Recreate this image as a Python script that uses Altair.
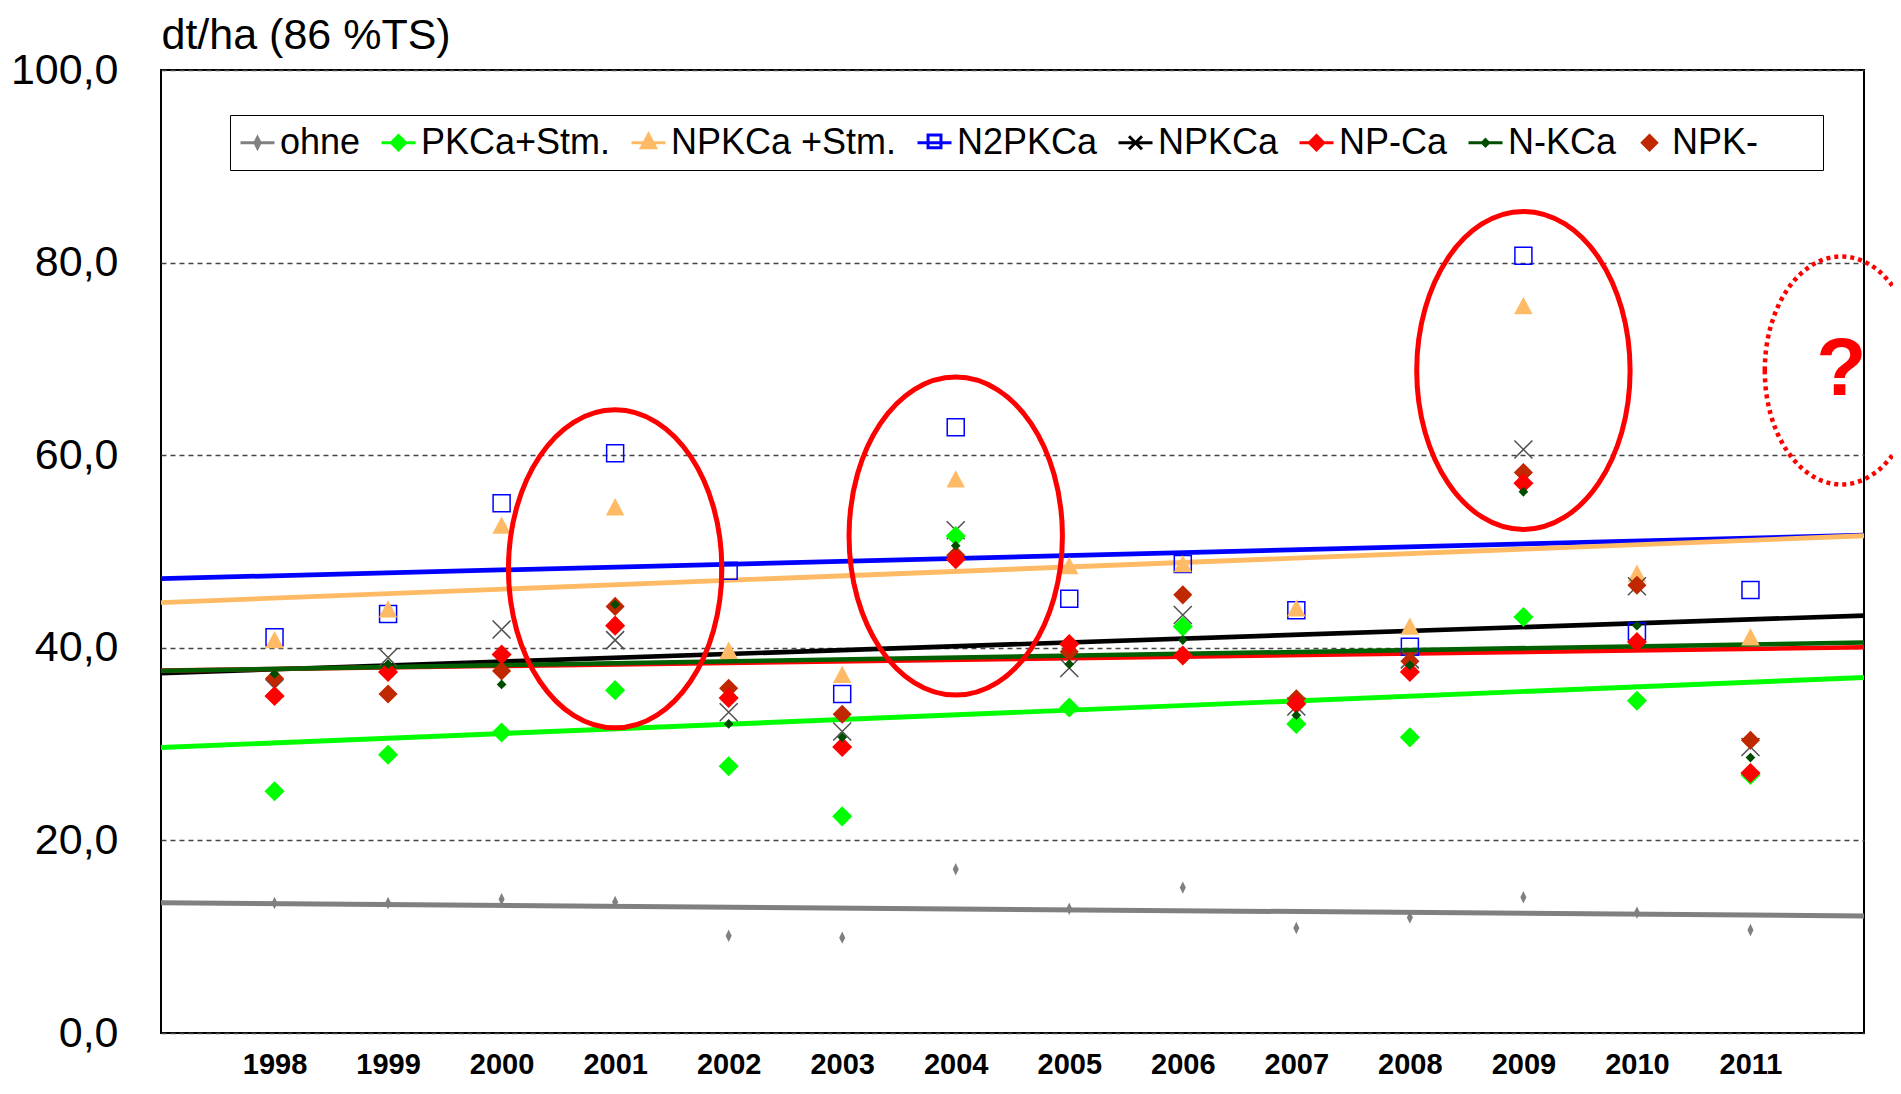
import altair as alt
import pandas as pd

# ---------------- data ----------------
years = list(range(1998, 2012))
series_names = ["ohne", "PKCa+Stm.", "NPKCa +Stm.", "N2PKCa", "NPKCa", "NP-Ca", "N-KCa", "NPK-"]

ohne      = [13.5, 13.5, 13.9, 13.6, 10.1, 9.9, 17.0, 12.9, 15.1, 10.9, 12.0, 14.1, 12.5, 10.7]
pkca_stm  = [25.1, 28.9, 31.2, 35.6, 27.7, 22.5, 51.6, 33.8, 42.2, 32.1, 30.7, 43.2, 34.5, 26.8]
npkca_stm = [40.8, 44.0, 52.7, 54.6, 39.7, 37.2, 57.5, 48.5, 48.7, 44.1, 42.2, 75.5, 47.7, 41.1]
n2pkca    = [41.1, 43.5, 55.0, 60.2, 48.0, 35.2, 62.9, 45.1, 48.7, 43.9, 40.1, 80.7, 41.7, 46.0]
npkca     = [35.8, 39.0, 41.9, 40.8, 33.3, 31.3, 52.2, 37.9, 43.4, 33.9, 38.8, 60.6, 46.4, 29.7]
np_ca     = [35.0, 37.5, 39.3, 42.3, 34.8, 29.7, 49.2, 40.4, 39.2, 34.2, 37.5, 57.1, 40.6, 27.0]
n_kca     = [37.3, 38.3, 36.2, 44.5, 32.1, 30.7, 50.6, 38.3, 40.8, 33.0, 38.2, 56.2, 42.3, 28.6]
npk_minus = [36.8, 35.2, 37.6, 44.3, 35.8, 33.1, 49.6, 39.6, 45.5, 34.7, 38.6, 58.2, 46.5, 30.4]

y_ticks = [0, 20, 40, 60, 80, 100]

# highlighted years (ellipses) and the open question for the next year
ellipse_years = [2001, 2004, 2009]
ellipse_values = [48.2, 51.6, 68.8]
question_years = [2011.8]
question_values = [68.8]

values_by_series = {
    "ohne": ohne, "PKCa+Stm.": pkca_stm, "NPKCa +Stm.": npkca_stm, "N2PKCa": n2pkca,
    "NPKCa": npkca, "NP-Ca": np_ca, "N-KCa": n_kca, "NPK-": npk_minus,
}
# order in which the series are drawn (later ones on top)
draw_order = ["ohne", "N2PKCa", "NPKCa +Stm.", "NPKCa", "PKCa+Stm.", "NPK-", "NP-Ca", "N-KCa"]

rows = []
for s in draw_order:
    for yr, v in zip(years, values_by_series[s]):
        rows.append({"series": s, "year": yr, "value": v})
df = pd.DataFrame(rows)

# ---------------- styles ----------------
GRAY = "#808080"
GREEN = "#00FF00"
ORANGE = "#FFBA66"
BLUE = "#0000FF"
RED = "#FF0000"
DKGREEN = "#004D00"
BROWN = "#C02800"
FONT = "Liberation Sans"

point_shapes = {
    "ohne": "M0,-0.45L0.22,0L0,0.45L-0.22,0Z",
    "PKCa+Stm.": "M0,-0.9L0.9,0L0,0.9L-0.9,0Z",
    "NPKCa +Stm.": "M0,-0.75L0.8,0.75L-0.8,0.75Z",
    "N2PKCa": "M-0.85,-0.85H0.85V0.85H-0.85Z",
    "NPKCa": "M-0.9,-0.9L0.9,0.9M-0.9,0.9L0.9,-0.9",
    "NP-Ca": "M0,-0.9L0.9,0L0,0.9L-0.9,0Z",
    "N-KCa": "M0,-0.38L0.38,0L0,0.38L-0.38,0Z",
    "NPK-": "M0,-0.85L0.85,0L0,0.85L-0.85,0Z",
}
point_fill = {
    "ohne": GRAY, "PKCa+Stm.": GREEN, "NPKCa +Stm.": ORANGE, "N2PKCa": "transparent",
    "NPKCa": "transparent", "NP-Ca": RED, "N-KCa": DKGREEN, "NPK-": BROWN,
}
point_stroke = {
    "ohne": GRAY, "PKCa+Stm.": GREEN, "NPKCa +Stm.": ORANGE, "N2PKCa": BLUE,
    "NPKCa": "#505050", "NP-Ca": RED, "N-KCa": DKGREEN, "NPK-": BROWN,
}
line_color = {
    "ohne": GRAY, "PKCa+Stm.": GREEN, "NPKCa +Stm.": ORANGE, "N2PKCa": BLUE,
    "NPKCa": "black", "NP-Ca": RED, "N-KCa": "#006000",
}
line_width = {
    "ohne": 5, "PKCa+Stm.": 4.5, "NPKCa +Stm.": 4.5, "N2PKCa": 4.5,
    "NPKCa": 4.5, "NP-Ca": 4.5, "N-KCa": 1.5,
}

legend_domain = series_names + [" "]
legend_shapes = [
    "M-1,0H1M0,-0.3L0.15,0L0,0.3L-0.15,0Z",
    "M-1,0H1M0,-0.42L0.42,0L0,0.42L-0.42,0Z",
    "M-1,0H1M0,-0.5L0.42,0.3L-0.42,0.3Z",
    "M-1,0H1M-0.38,-0.45H0.38V0.3H-0.38Z",
    "M-1,0H1M-0.38,-0.38L0.38,0.38M-0.38,0.38L0.38,-0.38",
    "M-1,0H1M0,-0.42L0.42,0L0,0.42L-0.42,0Z",
    "M-1,0H1M0,-0.18L0.18,0L0,0.18L-0.18,0Z",
    "M0,-0.42L0.42,0L0,0.42L-0.42,0Z",
    "M0,0",
]
legend_fill = [GRAY, GREEN, ORANGE, "transparent", "transparent", RED, DKGREEN, BROWN, "transparent"]
legend_stroke = [GRAY, GREEN, ORANGE, BLUE, "black", RED, DKGREEN, BROWN, "transparent"]

ELLIPSE = "M-0.671,0A0.671,1 0 1,1 0.671,0A0.671,1 0 1,1 -0.671,0Z"

# ---------------- encodings ----------------
x_enc = alt.X(
    "year:Q",
    scale=alt.Scale(domain=[1997, 2012], nice=False, zero=False),
    axis=alt.Axis(
        values=years, format="d", title=None, grid=False, ticks=False, domain=False,
        labelFont=FONT, labelFontSize=29, labelFontWeight="bold", labelColor="black",
        labelPadding=17, labelOverlap=False, labelFlush=False,
    ),
)
y_enc = alt.Y(
    "value:Q",
    scale=alt.Scale(domain=[0, 100], nice=False, zero=True),
    axis=alt.Axis(
        values=y_ticks,
        labelExpr="replace(format(datum.value, '.1f'), '.', ',')",
        grid=True, gridDash=[5, 4], gridColor="#444444", gridWidth=1.5,
        ticks=False, tickSize=0, domain=False,
        labelFont=FONT, labelFontSize=43, labelColor="black", labelPadding=43,
        labelOverlap=False, labelFlush=False,
        title="dt/ha (86 %TS)", titleAngle=0, titleAlign="left", titleBaseline="alphabetic",
        titleX=0, titleY=-22, titleFont=FONT, titleFontSize=43, titleFontWeight="normal",
        titleColor="black",
    ),
)

base = alt.Chart(df)

trend = base.transform_filter(
    "datum.series != 'NPK-'"
).transform_regression(
    "year", "value", groupby=["series"], extent=[1997, 2012]
).mark_line(opacity=1).encode(
    x=x_enc,
    y=y_enc,
    color=alt.Color("series:N", scale=alt.Scale(domain=list(line_color.keys()),
                                                range=list(line_color.values())), legend=None),
    strokeWidth=alt.StrokeWidth("series:N", scale=alt.Scale(domain=list(line_width.keys()),
                                                            range=list(line_width.values())), legend=None),
)

points = base.mark_point(opacity=1, strokeWidth=1.5, size=400).encode(
    x=x_enc,
    y=y_enc,
    shape=alt.Shape("series:N", scale=alt.Scale(domain=series_names,
                                                range=[point_shapes[s] for s in series_names]), legend=None),
    fill=alt.Fill("series:N", scale=alt.Scale(domain=series_names,
                                              range=[point_fill[s] for s in series_names]), legend=None),
    stroke=alt.Stroke("series:N", scale=alt.Scale(domain=series_names,
                                                  range=[point_stroke[s] for s in series_names]), legend=None),
)

legend_df = pd.DataFrame({"series": legend_domain, "year": [None] * len(legend_domain),
                          "value": [None] * len(legend_domain)})
leg = alt.Legend(
    orient="none", legendX=69, legendY=45, direction="horizontal", columns=len(legend_domain),
    title=None, labelFont=FONT, labelFontSize=36, labelColor="black", labelLimit=500,
    symbolSize=1156, symbolStrokeWidth=3, labelOffset=4, columnPadding=14, padding=9,
    strokeColor="black", fillColor="white", symbolOpacity=1,
)
legend_layer = alt.Chart(legend_df).mark_point(opacity=1, filled=True).encode(
    x=x_enc,
    y=y_enc,
    shape=alt.Shape("series:N", scale=alt.Scale(domain=legend_domain, range=legend_shapes), legend=leg),
    fill=alt.Fill("series:N", scale=alt.Scale(domain=legend_domain, range=legend_fill), legend=leg),
    stroke=alt.Stroke("series:N", scale=alt.Scale(domain=legend_domain, range=legend_stroke), legend=leg),
)

ell_df = pd.DataFrame({"year": ellipse_years, "value": ellipse_values})
q_df = pd.DataFrame({"year": question_years, "value": question_values})

ellipses = alt.Chart(ell_df).mark_point(
    shape=ELLIPSE, size=101124, filled=False, stroke=RED, strokeWidth=5, opacity=1
).encode(x=x_enc, y=y_enc)

dotted = alt.Chart(q_df).mark_point(
    shape=ELLIPSE, size=51984, filled=False, stroke=RED, strokeWidth=4.5, opacity=1,
    strokeDash=[4, 4], strokeCap="butt"
).encode(x=x_enc, y=y_enc)

question = alt.Chart(q_df).mark_text(
    text="?", font=FONT, fontSize=82, fontWeight="bold", color=RED,
    align="center", baseline="middle"
).encode(x=x_enc, y=y_enc)

chart = alt.layer(
    trend, points, ellipses, dotted, question, legend_layer
).resolve_scale(
    color="independent", fill="independent", stroke="independent", shape="independent",
    strokeWidth="independent",
).properties(
    width=1703, height=963,
    autosize=alt.AutoSizeParams(type="none"),
    padding={"left": 153, "top": 62, "right": 29, "bottom": 51},
    background="white",
).configure_view(
    stroke="black", strokeWidth=2
)

chart.save("out.html", embed_options={"renderer": "svg", "actions": False})
